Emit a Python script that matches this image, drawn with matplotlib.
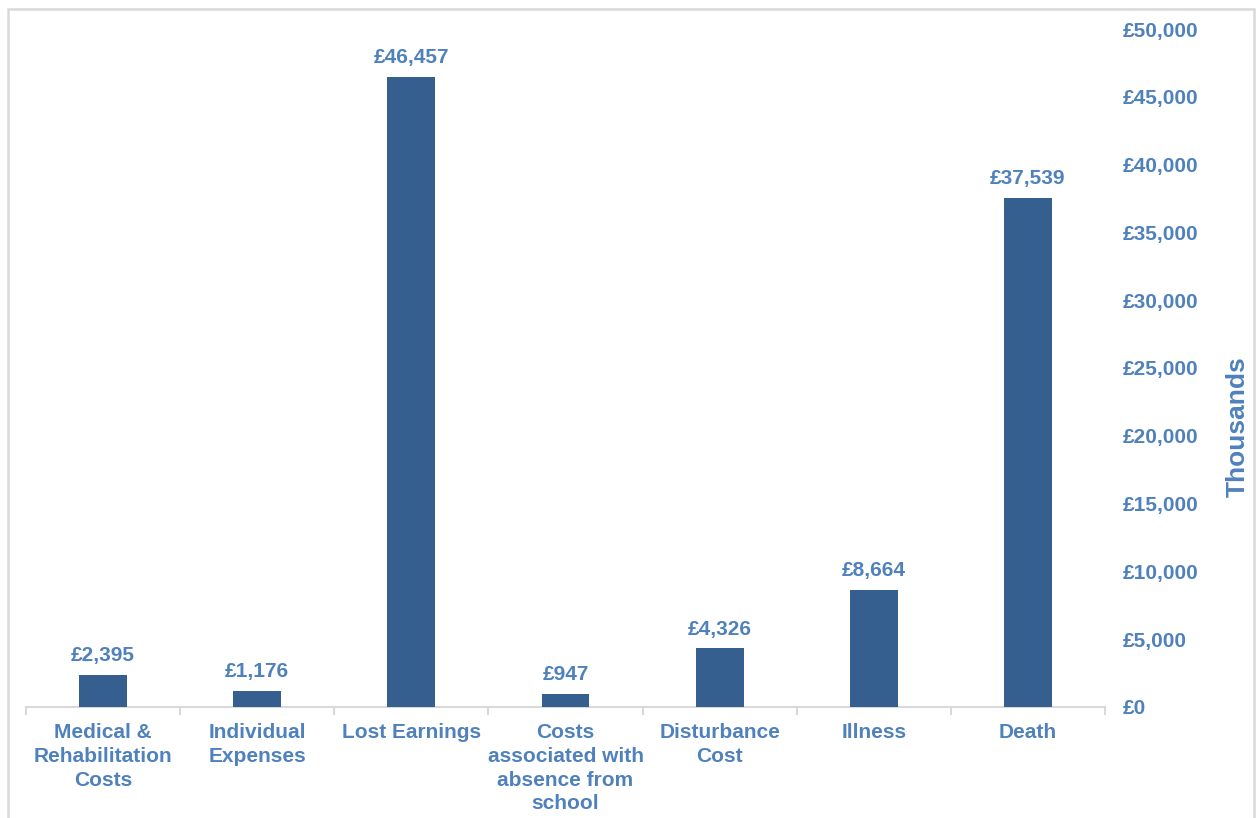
import numpy as np
import matplotlib
matplotlib.use('Agg')
import matplotlib.pyplot as plt
from matplotlib.patches import Rectangle

plt.rcParams['font.family'] = ['Liberation Sans', 'DejaVu Sans']

categories = ['Medical &\nRehabilitation\nCosts', 'Individual\nExpenses', 'Lost Earnings',
              'Costs\nassociated with\nabsence from\nschool', 'Disturbance\nCost', 'Illness', 'Death']
values = [2395, 1176, 46457, 947, 4326, 8664, 37539]
yticks = np.arange(0, 50001, 5000)

bar_col = '#355F8F'
txt_col = '#4F81BD'
grey = '#D9D9D9'

fig = plt.figure(figsize=(12.57, 8.18), dpi=100)
ax = fig.add_axes([26/1257, 1 - 707/818, (1105 - 26)/1257, (707 - 29)/818])

x = np.arange(len(categories))
ax.bar(x, values, width=0.31, color=bar_col, zorder=3)
for xi, v in zip(x, values):
    ax.annotate('£{:,}'.format(v), (xi, v), xytext=(0, 7), textcoords='offset points',
                ha='center', va='bottom', color=txt_col, fontsize=15, fontweight='bold')

ax.set_xlim(-0.5, len(categories) - 0.5)
ax.set_ylim(0, 50000)

ax.set_xticks(x)
ax.set_xticklabels(categories, color=txt_col, fontsize=15, fontweight='bold', linespacing=1.32)
ax.tick_params(axis='x', which='major', length=0, pad=11.5)
ax.set_xticks(np.arange(-0.5, len(categories)), minor=True)
ax.tick_params(axis='x', which='minor', length=6, width=1.5, color=grey)

ax.yaxis.tick_right()
ax.set_yticks(yticks)
ax.set_yticklabels(['£{:,}'.format(t) for t in yticks], color=txt_col, fontsize=15, fontweight='bold')
ax.tick_params(axis='y', length=0, pad=13)
ax.text(1.123, 0.413, 'Thousands', transform=ax.transAxes, rotation=90,
        ha='center', va='center', color=txt_col, fontsize=19, fontweight='bold')

for s in ['top', 'left', 'right']:
    ax.spines[s].set_visible(False)
ax.spines['bottom'].set_color(grey)
ax.spines['bottom'].set_linewidth(1.5)

# outer frame, bottom edge cut off
fig.patches.append(Rectangle((8/1257, -0.05), (1254 - 8)/1257, 1.05 - 9/818,
                             transform=fig.transFigure, fill=False,
                             edgecolor=grey, linewidth=1.8))

fig.savefig('out.png', dpi=100)
